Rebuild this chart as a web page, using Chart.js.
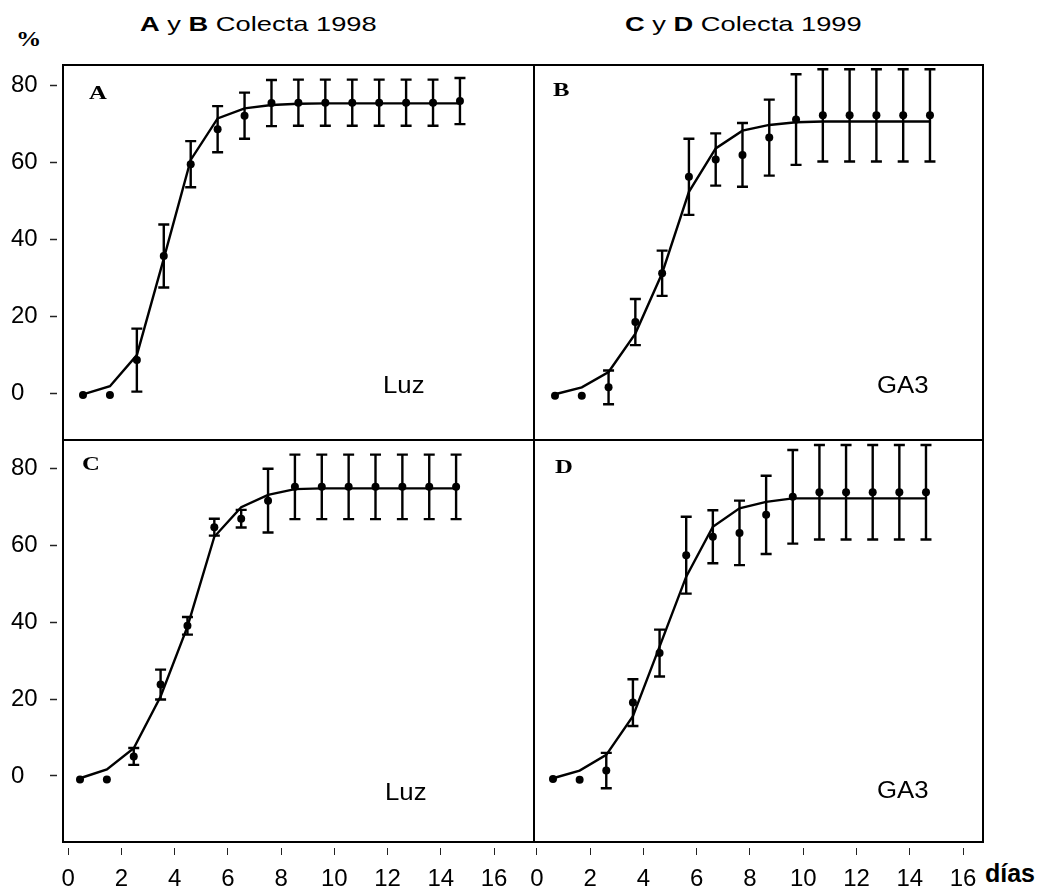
<!DOCTYPE html>
<html lang="es">
<head>
<meta charset="utf-8">
<title>Germinación acumulada</title>
<script src="https://cdn.jsdelivr.net/npm/chart.js"></script>
<style>
  body { margin: 0; background: #fff; }
  #fig { position: relative; width: 1042px; height: 892px; overflow: hidden; font-family: "Liberation Sans", Arial, sans-serif; color: #000; }
  #fig canvas { position: absolute; }
  .txt { position: absolute; white-space: nowrap; transform-origin: left top; }
  .title { font-size: 21px; line-height: 21px; transform: scaleX(1.3); }
</style>
</head>
<body>
<div id="fig">
  <div class="txt title" style="left:140px;top:13px"><b>A</b> y <b>B</b> Colecta 1998</div>
  <div class="txt title" style="left:625px;top:13px"><b>C</b> y <b>D</b> Colecta 1999</div>
  <div class="txt" style="left:16px;top:28px;font:bold 22px/22px 'Liberation Serif',serif;transform:scaleX(1.15)">%</div>
  <div class="txt" style="left:985px;top:861px;font:bold 25px/25px 'Liberation Sans',sans-serif">días</div>
  <canvas id="chartA" width="570" height="435" style="left:0;top:35px"></canvas>
  <canvas id="chartB" width="516" height="435" style="left:504px;top:35px"></canvas>
  <canvas id="chartC" width="570" height="482" style="left:0;top:410px"></canvas>
  <canvas id="chartD" width="516" height="482" style="left:504px;top:410px"></canvas>
</div>
<script>
// días de observación
const days = [1, 2, 3, 4, 5, 6, 7, 8, 9, 10, 11, 12, 13, 14, 15];
const yTicks = [0, 20, 40, 60, 80];
const xTicks = [0, 2, 4, 6, 8, 10, 12, 14, 16];

// A: Luz, colecta 1998
const meanA = [-0.5, -0.5, 8.6, 35.7, 59.6, 68.7, 72.2, 75.5, 75.6, 75.6, 75.6, 75.6, 75.6, 75.6, 76.0];
const errA  = [0, 0, 8.2, 8.2, 6.0, 6.0, 6.0, 6.0, 6.0, 6.0, 6.0, 6.0, 6.0, 6.0, 6.0];
const fitA  = [-0.3, 1.8, 9.9, 35.0, 60.7, 71.5, 74.1, 75.0, 75.3, 75.4, 75.4, 75.4, 75.4, 75.4, 75.4];

// B: GA3, colecta 1998
const meanB = [-0.7, -0.7, 1.5, 18.5, 31.2, 56.3, 60.8, 62.0, 66.5, 71.2, 72.3, 72.3, 72.3, 72.3, 72.3];
const errB  = [0, 0, 4.4, 6.0, 5.9, 9.9, 6.8, 8.3, 9.9, 11.8, 12.0, 12.0, 12.0, 12.0, 12.0];
const fitB  = [-0.3, 1.5, 5.5, 15.5, 31.2, 52.4, 63.7, 68.3, 69.8, 70.5, 70.7, 70.7, 70.7, 70.7, 70.7];

// C: Luz, colecta 1999
const meanC = [-0.9, -0.9, 5.1, 23.8, 39.1, 64.8, 67.0, 71.7, 75.3, 75.3, 75.3, 75.3, 75.3, 75.3, 75.3];
const errC  = [0, 0, 2.2, 3.9, 2.3, 2.2, 2.3, 8.3, 8.4, 8.4, 8.4, 8.4, 8.4, 8.4, 8.4];
const fitC  = [-0.6, 1.7, 7.2, 20.7, 38.9, 62.3, 70.0, 73.2, 74.7, 74.9, 74.9, 74.9, 74.9, 74.9, 74.9];

// D: GA3, colecta 1999
const meanD = [-0.8, -1.0, 1.4, 19.1, 32.0, 57.5, 62.3, 63.3, 68.0, 72.7, 73.9, 73.9, 73.9, 73.9, 73.9];
const errD  = [0, 0, 4.6, 6.1, 6.1, 10.0, 6.9, 8.4, 10.2, 12.2, 12.3, 12.3, 12.3, 12.3, 12.3];
const fitD  = [-0.6, 1.4, 5.5, 15.6, 33.7, 51.9, 64.9, 69.7, 71.4, 72.3, 72.3, 72.3, 72.3, 72.3, 72.3];

const tickFont = { family: 'Liberation Sans', size: 24 };

function makePanel(id, p) {
    // frame around the plot area
    const frame = {
        id: 'frame',
        afterDraw(chart) {
            const { ctx, chartArea: a } = chart;
            ctx.save();
            ctx.strokeStyle = '#000';
            ctx.lineWidth = 2;
            ctx.strokeRect(a.left, a.top, a.right - a.left, a.bottom - a.top);
            ctx.restore();
        }
    };

    // vertical error bars with caps
    const errorBars = {
        id: 'errorBars',
        afterDatasetsDraw(chart) {
            const meta = chart.getDatasetMeta(1);
            const y = chart.scales.y;
            const ctx = chart.ctx;
            ctx.save();
            ctx.strokeStyle = '#000';
            ctx.lineWidth = 2.4;
            meta.data.forEach((pt, i) => {
                const e = p.err[i];
                if (!e) return;
                const top = y.getPixelForValue(p.mean[i] + e);
                const bot = y.getPixelForValue(p.mean[i] - e);
                ctx.beginPath();
                ctx.moveTo(pt.x, top); ctx.lineTo(pt.x, bot);
                ctx.moveTo(pt.x - 5.5, top); ctx.lineTo(pt.x + 5.5, top);
                ctx.moveTo(pt.x - 5.5, bot); ctx.lineTo(pt.x + 5.5, bot);
                ctx.stroke();
            });
            ctx.restore();
        }
    };

    // panel letter and treatment name
    const labels = {
        id: 'panelLabels',
        afterDraw(chart) {
            const { ctx, chartArea: a } = chart;
            ctx.save();
            ctx.fillStyle = '#000';
            ctx.textBaseline = 'alphabetic';
            ctx.save();
            ctx.translate(a.left + p.letterPos[0], a.top + p.letterPos[1]);
            ctx.scale(1.3, 1);
            ctx.font = 'bold 19px "Liberation Serif"';
            ctx.fillText(p.letter, 0, 0);
            ctx.restore();
            ctx.translate(a.right - p.treatPos[0], a.bottom - p.treatPos[1]);
            ctx.scale(1.12, 1);
            ctx.font = '23px "Liberation Sans"';
            ctx.fillText(p.treatment, 0, 0);
            ctx.restore();
        }
    };

    const scales = {
        x: { type: 'linear', display: false, min: p.xMin, max: p.xMax },
        y: {
            type: 'linear',
            display: p.showY,
            min: p.yMin,
            max: p.yMax,
            afterBuildTicks: s => { s.ticks = yTicks.map(v => ({ value: v })); },
            grid: { drawOnChartArea: false, tickLength: 13, tickBorderDash: [7, 6], tickColor: '#222', tickWidth: 1.5 },
            border: { display: false },
            ticks: { color: '#000', crossAlign: 'far', font: tickFont }
        }
    };
    if (p.showY) scales.y.afterFit = s => { s.width = 52; };

    if (p.showX) {
        scales.xt = {
            type: 'linear',
            position: 'bottom',
            min: p.tMin,
            max: p.tMax,
            afterBuildTicks: s => { s.ticks = xTicks.map(v => ({ value: v })); },
            afterFit: s => { s.height = 50; },
            grid: { drawOnChartArea: false, tickLength: 13, tickBorderDash: [0, 6, 7, 6], tickColor: '#222', tickWidth: 1 },
            border: { display: false },
            ticks: { color: '#000', padding: 10, maxRotation: 0, autoSkip: false, font: tickFont }
        };
    }

    return new Chart(document.getElementById(id).getContext('2d'), {
        type: 'scatter',
        data: {
            datasets: [{
                data: days.map((d, i) => ({ x: d, y: p.fit[i] })),
                showLine: true,
                borderColor: '#000',
                borderWidth: 2.4,
                pointRadius: 0,
                tension: 0,
                xAxisID: 'x',
                yAxisID: 'y'
            }, {
                data: days.map((d, i) => ({ x: d, y: p.mean[i] })),
                backgroundColor: '#000',
                borderColor: '#000',
                pointRadius: 4,
                borderWidth: 0,
                xAxisID: 'x',
                yAxisID: 'y'
            }]
        },
        options: {
            responsive: false,
            animation: false,
            events: [],
            layout: { padding: p.padding },
            plugins: { legend: { display: false }, tooltip: { enabled: false } },
            scales: scales
        },
        plugins: [frame, errorBars, labels]
    });
}

makePanel('chartA', {
    mean: meanA, err: errA, fit: fitA, letter: 'A', treatment: 'Luz',
    letterPos: [26, 34], treatPos: [151, 47],
    showY: true, showX: false, yMin: -12.2, yMax: 85.4, xMin: 0.257, xMax: 17.75,
    padding: { left: 11, top: 30, right: 36, bottom: 30 }
});
makePanel('chartB', {
    mean: meanB, err: errB, fit: fitB, letter: 'B', treatment: 'GA3',
    letterPos: [19, 31], treatPos: [106, 47],
    showY: false, showX: false, yMin: -12.2, yMax: 85.4, xMin: 0.216, xMax: 16.98,
    padding: { left: 30, top: 30, right: 37, bottom: 30 }
});
makePanel('chartC', {
    mean: meanC, err: errC, fit: fitC, letter: 'C', treatment: 'Luz',
    letterPos: [19, 30], treatPos: [149, 42],
    showY: true, showX: true, yMin: -17.2, yMax: 87.5, xMin: 0.367, xMax: 17.90, tMin: -0.19, tMax: 17.5,
    padding: { left: 11, top: 30, right: 36, bottom: 0 }
});
makePanel('chartD', {
    mean: meanD, err: errD, fit: fitD, letter: 'D', treatment: 'GA3',
    letterPos: [21, 33], treatPos: [106, 44],
    showY: false, showX: true, yMin: -17.2, yMax: 87.5, xMin: 0.287, xMax: 17.14, tMin: -0.11, tMax: 16.75,
    padding: { left: 30, top: 30, right: 37, bottom: 0 }
});
</script>
</body>
</html>
